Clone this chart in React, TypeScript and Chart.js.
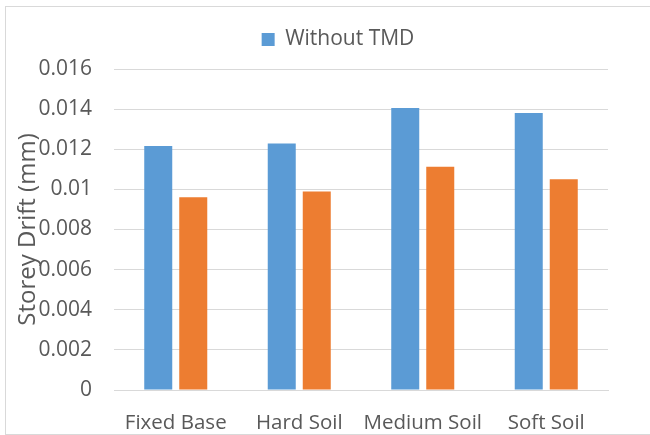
import React, { useEffect, useRef } from "react";
import { Chart, registerables } from "chart.js";

Chart.register(...registerables);

const categories = ["Fixed Base", "Hard Soil", "Medium Soil", "Soft Soil"];
const withoutTMD = [0.01216, 0.01229, 0.01406, 0.01381];
const withTMD = [0.00961, 0.0099, 0.01113, 0.0105];
const seriesNames = ["Without TMD", "With TMD"];
const yMin = 0;
const yMax = 0.016;
const yStep = 0.002;

const FONT = "'Open Sans', sans-serif";
const TEXT = "#595959";
const GRID = "#d9d9d9";

const legendSpacer = {
  id: "legendSpacer",
  afterInit(chart: any) {
    const lg = chart.legend;
    if (!lg) return;
    const orig = lg.fit.bind(lg);
    lg.fit = function () {
      orig();
      this.height += 9;
    };
  },
  afterLayout(chart: any) {
    const lg = chart.legend;
    if (!lg) return;
    lg.left += 34;
    lg.right += 34;
  },
};

export default function App() {
  const ref = useRef<HTMLCanvasElement | null>(null);

  useEffect(() => {
    document.body.style.margin = "0";
    const canvas = ref.current;
    if (!canvas) return;
    const chart = new Chart(canvas, {
      type: "bar",
      data: {
        labels: categories,
        datasets: [
          {
            label: seriesNames[0],
            data: withoutTMD,
            backgroundColor: "#5b9bd5",
            barPercentage: 0.8,
            categoryPercentage: 0.567,
          },
          {
            label: seriesNames[1],
            data: withTMD,
            backgroundColor: "#ed7d31",
            barPercentage: 0.8,
            categoryPercentage: 0.567,
          },
        ],
      },
      plugins: [legendSpacer],
      options: {
        animation: false,
        responsive: false,
        maintainAspectRatio: false,
        layout: { padding: { top: 7, right: 42, bottom: 0, left: 0 } },
        plugins: {
          tooltip: { enabled: false },
          legend: {
            position: "top",
            labels: {
              filter: (item) => item.datasetIndex === 0,
              boxWidth: 13,
              boxHeight: 13,
              padding: 22,
              color: TEXT,
              font: { family: FONT, size: 21 },
            },
          },
        },
        scales: {
          x: {
            grid: { display: false, drawTicks: false },
            border: { display: true, color: GRID, width: 1 },
            ticks: {
              color: TEXT,
              font: { family: FONT, size: 20.5 },
              padding: 21,
              maxRotation: 0,
              minRotation: 0,
              autoSkip: false,
            },
            afterFit: (s: any) => {
              s.height = 45;
            },
          },
          y: {
            min: yMin,
            max: yMax,
            grid: { color: GRID, lineWidth: 1, drawTicks: false },
            border: { display: false },
            ticks: {
              stepSize: yStep,
              color: TEXT,
              font: { family: FONT, size: 21 },
              padding: 22,
              callback: (v: any) => String(parseFloat(Number(v).toFixed(4))),
            },
            title: {
              display: true,
              text: "Storey Drift (mm)",
              color: TEXT,
              font: { family: FONT, size: 24 },
              padding: { top: 14, bottom: 0 },
            },
            afterFit: (s: any) => {
              s.width = 114;
            },
          },
        },
      },
    });
    return () => chart.destroy();
  }, []);

  return (
    <div style={{ position: "relative", width: 650, height: 435, background: "#fff" }}>
      <canvas ref={ref} width={650} height={435} style={{ position: "absolute", left: 0, top: 0 }} />
      <div
        style={{
          position: "absolute",
          left: 5,
          top: 6,
          width: 650,
          height: 427,
          borderLeft: "1px solid #d9d9d9",
          borderTop: "1px solid #d9d9d9",
          borderBottom: "1px solid #d9d9d9",
          pointerEvents: "none",
        }}
      />
    </div>
  );
}
